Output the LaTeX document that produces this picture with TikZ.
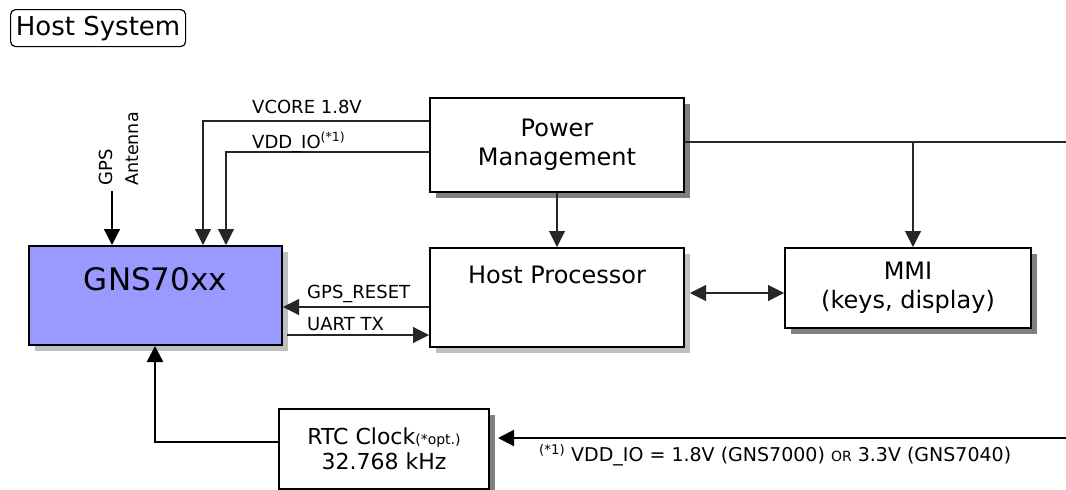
\documentclass[tikz,border=0pt]{standalone}
\usepackage{fontspec}
\setmainfont{DejaVu Sans}
\usetikzlibrary{arrows.meta,calc,shadows}
\begin{document}
\begin{tikzpicture}[x=1pt,y=-1pt,
  box/.style={draw, line width=2pt, fill=white, anchor=north west, inner sep=0pt, align=center},
  shdark/.style={drop shadow={shadow xshift=6pt, shadow yshift=-6pt, fill=black!50, opacity=1}},
  shlight/.style={drop shadow={shadow xshift=6pt, shadow yshift=-6pt, fill=black!25, opacity=1}},
  ln/.style={line width=1.1pt, draw=black!85},
  tip/.tip={Triangle[width=16pt,length=16pt]},
  arr/.style={-tip},
  lab/.style={font=\fontsize{18}{20}\selectfont, inner sep=0pt},
  big/.style={font=\fontsize{24}{29}\selectfont},
]
\useasboundingbox (0,0) rectangle (1066,490);
\fill[white] (0,0) rectangle (1066,490);

% boxes
\node[box, minimum width=175, minimum height=37, rounded corners=5pt, line width=1.2pt,
      font=\fontsize{26}{28}\selectfont] (hs) at (10,9) {Host System};
\node[box, fill={rgb,255:red,153;green,153;blue,255}, minimum width=253, minimum height=99, shlight] (gns) at (28,245) {};
\node[anchor=base, font=\fontsize{31}{33}\selectfont, inner sep=0pt] (gnst) at ($(gns.north)+(0,45)$) {GNS70xx};
\node[box, big, minimum width=254, minimum height=94, shdark] (pm) at (429,97) {Power\\Management};
\node[box, minimum width=254, minimum height=99, shlight] (hp) at (429,247) {};
\node[anchor=base, big, inner sep=0pt] (hpt) at ($(hp.north)+(0,36)$) {Host Processor};
\node[box, big, minimum width=246, minimum height=80, shdark] (mmi) at (784,247) {MMI\\(keys, display)};
\node[box, font=\fontsize{22}{25}\selectfont, minimum width=210, minimum height=80, shdark] (rtc) at (278,408)
  {RTC Clock{\fontsize{14}{14}\selectfont(*opt.)}\\32.768 kHz};

% antenna
\coordinate (ant) at (112,191);
\draw[line width=1.5pt, arr] (ant) -- (ant |- gns.north);
\node[rotate=90, anchor=mid west, inner sep=0pt, font=\fontsize{18}{19}\selectfont] (gps) at (110,186) {GPS};
\node[rotate=90, anchor=mid west, inner sep=0pt, font=\fontsize{17.5}{19}\selectfont] (antt) at (136,186) {Antenna};

% supply lines
\coordinate (vc) at (203,121);
\coordinate (vd) at (226,152);
\draw[ln, arr] (vc -| pm.west) -- (vc) -- (vc |- gns.north);
\draw[ln, arr] (vd -| pm.west) -- (vd) -- (vd |- gns.north);
\node[lab, anchor=base west] (vcl) at (252,113) {VCORE 1.8V};
\node[lab, anchor=base west] (vdl) at (252,148) {VDD\_IO\textsuperscript{(*1)}};

\draw[ln, arr] (pm.south) -- (hp.north);
\coordinate (re) at (1066,142);
\coordinate (br) at (913,142);
\draw[ln] (re -| pm.east) -- (re);
\draw[ln, arr] (br) -- (br |- mmi.north);

\coordinate (da) at (690,293);
\draw[ln, tip-tip] (da) -- (da -| mmi.west);

% signals
\coordinate (gr) at (0,307);
\coordinate (ut) at (0,335);
\draw[ln, arr] (gr -| hp.west) -- (gr -| gns.east);
\draw[ln, arr] ($(ut -| gns.east)+(4,0)$) -- (ut -| hp.west);
\node[lab, anchor=base west] (grl) at (307,298) {GPS\_RESET};
\node[lab, anchor=base west] (utl) at (307,330) {UART TX};

% RTC
\coordinate (rk) at (155,442);
\draw[line width=2.5pt, arr] (rk -| rtc.west) -- (rk) -- (rk |- gns.south);
\coordinate (rr) at (1066,438);
\draw[line width=2pt, arr] (rr) -- ($(rr -| rtc.east)+(8,0)$);

\node[anchor=base west, inner sep=0pt, font=\fontsize{19}{20}\selectfont] (fn) at (539,461)
  {\textsuperscript{(*1)} VDD\_IO = 1.8V (GNS7000) {\fontsize{14}{14}\selectfont OR} 3.3V (GNS7040)};
\end{tikzpicture}
\end{document}
